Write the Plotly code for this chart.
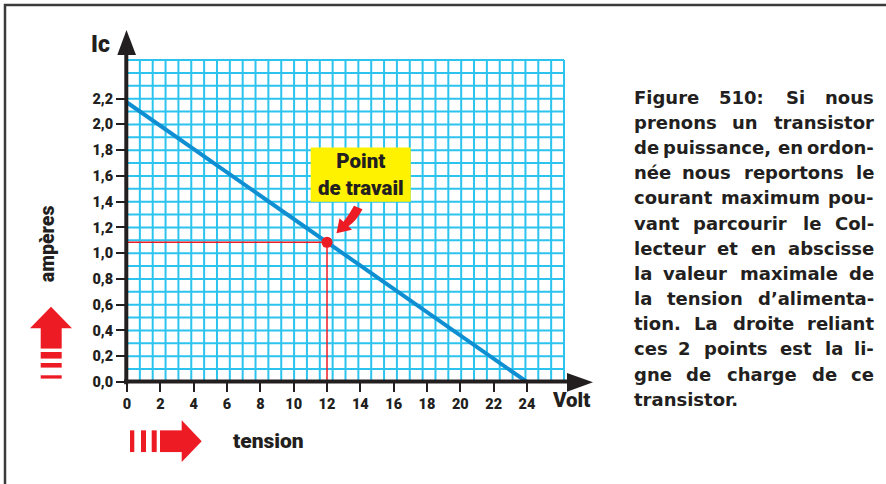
import plotly.graph_objects as go

# ---- chart values ---------------------------------------------------------
vce_load = [0, 24]          # load line end points, volts
ic_load = [2.17, 0.0]       # load line end points, amperes
vce_work = [12]             # operating point, volts
ic_work = [1.085]           # operating point, amperes

x_tick_vals = [0, 2, 4, 6, 8, 10, 12, 14, 16, 18, 20, 22, 24]
x_tick_text = ["0", "2", "4", "6", "8", "10", "12", "14", "16", "18", "20", "22", "24"]
y_tick_vals = [0.0, 0.2, 0.4, 0.6, 0.8, 1.0, 1.2, 1.4, 1.6, 1.8, 2.0, 2.2]
y_tick_text = ["0,0", "0,2", "0,4", "0,6", "0,8", "1,0", "1,2", "1,4", "1,6", "1,8", "2,0", "2,2"]

caption_lines = [
    "Figure 510: Si nous",
    "prenons un transistor",
    "de puissance, en ordon-",
    "née nous reportons le",
    "courant maximum pou-",
    "vant parcourir le Col-",
    "lecteur et en abscisse",
    "la valeur maximale de",
    "la tension d’alimenta-",
    "tion. La droite reliant",
    "ces 2 points est la li-",
    "gne de charge de ce",
    "transistor.",
]

# ---- page geometry (pixels) ------------------------------------------------
W, H = 886, 484
PL, PR, PT, PB = 127, 564, 60, 381.7      # plot area edges
GRID_COLS, GRID_ROWS = 34, 25

DARK = "#231f20"
GRID = "#2cc3ef"
BLUE = "#0f8fd2"
RED = "#ed1c24"
YELLOW = "#fff200"
LABEL_FONT = "Roboto, Liberation Sans, Arial, sans-serif"
BODY = "DejaVu Sans, sans-serif"


def fx(x):
    return (x - PL) / (PR - PL)


def fy(y):
    return (PB - y) / (PB - PT)


def path(points):
    pts = [f"{fx(x):.5f},{fy(y):.5f}" for x, y in points]
    return "M " + " L ".join(pts) + " Z"


def rect(x0, y0, x1, y1, color):
    return dict(type="rect", xref="paper", yref="paper",
                x0=fx(x0), x1=fx(x1), y0=fy(y1), y1=fy(y0),
                fillcolor=color, line=dict(width=0))


shapes = []

# squared paper
for k in range(1, GRID_COLS + 1):
    shapes.append(dict(type="line", xref="paper", yref="paper", layer="below",
                       x0=k / GRID_COLS, x1=k / GRID_COLS, y0=0, y1=1,
                       line=dict(color=GRID, width=2)))
for k in range(1, GRID_ROWS + 1):
    shapes.append(dict(type="line", xref="paper", yref="paper", layer="below",
                       x0=0, x1=1, y0=k / GRID_ROWS, y1=k / GRID_ROWS,
                       line=dict(color=GRID, width=2)))

# heavy axes with arrow heads
shapes.append(dict(type="line", xref="paper", yref="paper",
                   x0=fx(124), x1=fx(568), y0=fy(381.3), y1=fy(381.3),
                   line=dict(color=DARK, width=4)))
shapes.append(dict(type="line", xref="paper", yref="paper",
                   x0=fx(126.3), x1=fx(126.3), y0=fy(384), y1=fy(54),
                   line=dict(color=DARK, width=4)))
shapes.append(dict(type="path", xref="paper", yref="paper",
                   path=path([(117.3, 55), (126.5, 30), (136, 55)]),
                   fillcolor=DARK, line=dict(width=0)))
shapes.append(dict(type="path", xref="paper", yref="paper",
                   path=path([(567, 372.7), (593, 382), (567, 391.5)]),
                   fillcolor=DARK, line=dict(width=0)))

# red arrow for the current axis (pointing up)
shapes.append(dict(type="path", xref="paper", yref="paper",
                   path=path([(30, 328), (51, 306.5), (72, 328)]),
                   fillcolor=RED, line=dict(width=0)))
shapes.append(rect(40.7, 327.5, 61.7, 348.3, RED))
shapes.append(rect(40.7, 351.7, 61.7, 358.3, RED))
shapes.append(rect(40.7, 362.7, 61.7, 367.3, RED))
shapes.append(rect(40.7, 375.0, 61.7, 378.3, RED))

# red arrow for the voltage axis (pointing right)
shapes.append(rect(130.0, 430, 134.3, 451.7, RED))
shapes.append(rect(141.0, 430, 146.0, 451.7, RED))
shapes.append(rect(151.7, 430, 156.7, 451.7, RED))
shapes.append(rect(160.0, 430, 182.0, 451.7, RED))
shapes.append(dict(type="path", xref="paper", yref="paper",
                   path=path([(181.7, 420), (201.7, 441), (181.7, 461.7)]),
                   fillcolor=RED, line=dict(width=0)))

# label box for the operating point
shapes.append(rect(310.7, 147.3, 410.7, 201.7, YELLOW))

# curved pointer towards the operating point
curve = (f"M {fx(336.5):.5f},{fy(233):.5f} "
         f"L {fx(339.5):.5f},{fy(218):.5f} "
         f"L {fx(343.5):.5f},{fy(221.5):.5f} "
         f"Q {fx(350):.5f},{fy(213):.5f} {fx(354):.5f},{fy(205.5):.5f} "
         f"L {fx(362.5):.5f},{fy(209):.5f} "
         f"Q {fx(357):.5f},{fy(220):.5f} {fx(348.5):.5f},{fy(226):.5f} "
         f"L {fx(352):.5f},{fy(229.5):.5f} Z")
shapes.append(dict(type="path", xref="paper", yref="paper", path=curve,
                   fillcolor=RED, line=dict(width=0)))

# outer frame (top and left edges fall inside the page)
shapes.append(dict(type="path", xref="paper", yref="paper",
                   path=f"M {fx(5):.5f},{fy(495):.5f} L {fx(5):.5f},{fy(5):.5f} L {fx(895):.5f},{fy(5):.5f}",
                   line=dict(color="#3b3b3b", width=2.5)))

# ---- text -----------------------------------------------------------------
annotations = []


def label(text, x, y, size, family=LABEL_FONT, angle=0, xanchor="center",
          color=DARK, weight=900):
    annotations.append(dict(text=text, xref="paper", yref="paper",
                            x=fx(x), y=fy(y), xanchor=xanchor, yanchor="middle",
                            showarrow=False, textangle=angle,
                            font=dict(family=family, size=size, color=color, weight=weight)))


label("Ic", 100, 45, 23)
label("Volt", 571, 400, 20.5)
label("ampères", 47, 244, 19.5, angle=-90)
label("tension", 268, 441, 21)
label("Point<br>de travail", 360.7, 174.5, 20.5)

# justified caption, one word at a time (advance widths of the bold face, per 1000 em)
ADV = {" ": 348, ",": 381, "-": 415, ".": 381, ":": 400, "’": 343,
       "0": 696, "1": 696, "2": 696, "5": 696,
       "C": 734, "F": 630, "L": 637, "S": 720,
       "a": 675, "b": 716, "c": 593, "d": 716, "e": 678, "f": 435, "g": 716,
       "h": 712, "i": 343, "j": 343, "k": 665, "l": 343, "m": 1042, "n": 712,
       "o": 687, "p": 716, "q": 716, "r": 493, "s": 595, "t": 478, "u": 712,
       "v": 652, "w": 924, "x": 645, "y": 652, "z": 582, "é": 678, "è": 678}
CAP_SIZE = 18
CAP_LEFT, CAP_RIGHT = 632, 876
CAP_TOP, CAP_STEP = 97, 25.17


def width(s):
    return sum(ADV.get(ch, 680) for ch in s) / 1000 * CAP_SIZE


for i, line in enumerate(caption_lines):
    y = CAP_TOP + i * CAP_STEP
    words = line.split(" ")
    if i == len(caption_lines) - 1 or len(words) == 1:
        label(line, CAP_LEFT, y, CAP_SIZE, family=BODY, xanchor="left", weight="bold")
        continue
    widths = [width(w) for w in words]
    gap = (CAP_RIGHT - CAP_LEFT - sum(widths)) / (len(words) - 1)
    x = CAP_LEFT
    for j, (w, ww) in enumerate(zip(words, widths)):
        if j == 0:
            label(w, CAP_LEFT, y, CAP_SIZE, family=BODY, xanchor="left", weight="bold")
        elif j == len(words) - 1:
            label(w, CAP_RIGHT, y, CAP_SIZE, family=BODY, xanchor="right", weight="bold")
        else:
            label(w, x + ww / 2, y, CAP_SIZE, family=BODY, xanchor="center", weight="bold")
        x += ww + gap

# ---- traces ----------------------------------------------------------------
fig = go.Figure()
fig.add_trace(go.Scatter(x=[vce_work[0], vce_work[0], 0], y=[0, ic_work[0], ic_work[0]],
                         mode="lines", line=dict(color=RED, width=1.5), hoverinfo="skip"))
fig.add_trace(go.Scatter(x=vce_load, y=ic_load, mode="lines",
                         line=dict(color=BLUE, width=4), hoverinfo="skip"))
fig.add_trace(go.Scatter(x=vce_work, y=ic_work, mode="markers",
                         marker=dict(color=RED, size=11), hoverinfo="skip"))

tick_font = dict(family=LABEL_FONT, size=14.5, color=DARK, weight=900)
fig.update_layout(
    width=W, height=H,
    margin=dict(l=PL, r=W - PR, t=PT, b=H - PB, pad=0),
    paper_bgcolor="white", plot_bgcolor="white",
    showlegend=False,
    xaxis=dict(range=[0, (PR - PL) / (400 / 24)], tickvals=x_tick_vals, ticktext=x_tick_text,
               ticks="outside", ticklen=9, tickwidth=2, tickcolor=DARK,
               showgrid=False, zeroline=False, showline=False, automargin=False,
               tickfont=tick_font, fixedrange=True),
    yaxis=dict(range=[0, 2.5], tickvals=y_tick_vals, ticktext=y_tick_text,
               ticks="outside", ticklen=10, tickwidth=2, tickcolor=DARK,
               showgrid=False, zeroline=False, showline=False, automargin=False,
               tickfont=tick_font, fixedrange=True),
    shapes=shapes,
    annotations=annotations,
)

fig.write_html("out.html")
